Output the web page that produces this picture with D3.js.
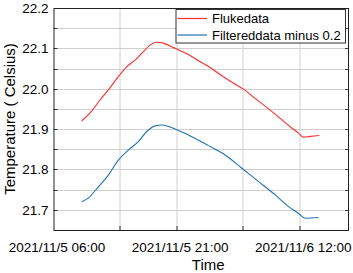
<!DOCTYPE html>
<html>
<head>
<meta charset="utf-8">
<script src="https://cdn.jsdelivr.net/npm/d3@7"></script>
<style>
  body { margin: 0; background: #fff; }
  svg text { font-family: "Liberation Sans", Arial, sans-serif; fill: #000; }
</style>
</head>
<body>
<div id="chart"></div>
<script>
// Flukedata series (time, Celsius)
const flukeTimes = ["2021-11-05 09:26", "2021-11-05 10:40", "2021-11-05 11:40", "2021-11-05 12:41",
  "2021-11-05 13:54", "2021-11-05 14:56", "2021-11-05 15:56", "2021-11-05 16:57", "2021-11-05 17:46",
  "2021-11-05 18:35", "2021-11-05 19:23", "2021-11-05 20:49", "2021-11-05 22:26", "2021-11-05 23:52",
  "2021-11-06 00:53", "2021-11-06 02:31", "2021-11-06 04:08", "2021-11-06 05:09", "2021-11-06 06:34",
  "2021-11-06 08:12", "2021-11-06 09:50", "2021-11-06 11:03", "2021-11-06 11:51", "2021-11-06 12:28",
  "2021-11-06 13:17", "2021-11-06 14:23"]
const flukeValues = [21.920, 21.945, 21.972, 21.997, 22.030, 22.055, 22.071, 22.092, 22.108,
  22.115, 22.113, 22.100, 22.085, 22.067, 22.055, 22.032, 22.011, 21.999, 21.976,
  21.950, 21.923, 21.902, 21.890, 21.880, 21.882, 21.884]

// Filtereddata minus 0.2
const filteredTimes = ["2021-11-05 09:26", "2021-11-05 10:14", "2021-11-05 11:28", "2021-11-05 12:41",
  "2021-11-05 13:54", "2021-11-05 15:07", "2021-11-05 16:20", "2021-11-05 17:22", "2021-11-05 18:23",
  "2021-11-05 19:12", "2021-11-05 20:49", "2021-11-05 22:51", "2021-11-06 00:53", "2021-11-06 02:55",
  "2021-11-06 04:57", "2021-11-06 06:59", "2021-11-06 09:01", "2021-11-06 10:38", "2021-11-06 11:51",
  "2021-11-06 12:40", "2021-11-06 14:17"]
const filteredValues = [21.720, 21.729, 21.757, 21.786, 21.823, 21.848, 21.869, 21.894, 21.908,
  21.910, 21.900, 21.881, 21.859, 21.836, 21.803, 21.770, 21.737, 21.708, 21.691,
  21.679, 21.681]

const seriesNames = ["Flukedata", "Filtereddata minus 0.2"]
const seriesColors = ["#ff2b2b", "#2271b3"]

const xTickTimes = ["2021-11-05 06:00", "2021-11-05 21:00", "2021-11-06 12:00"]
const xGridTimes = ["2021-11-05 14:00", "2021-11-05 21:00", "2021-11-06 05:00", "2021-11-06 12:00"]
const yTicks = [21.7, 21.8, 21.9, 22.0, 22.1, 22.2]
const yGrid = [21.7, 21.75, 21.8, 21.85, 21.9, 21.95, 22.0, 22.05, 22.1, 22.15]

const parse = d3.timeParse("%Y-%m-%d %H:%M")
const fmt = d3.timeFormat("%Y/%-m/%-d %H:%M")

const W = 353, H = 273
const margin = {top: 8, right: 4, bottom: 43, left: 53.5}
const width = W - margin.left - margin.right,
      height = H - margin.top - margin.bottom

const svg = d3.select("#chart").append("svg")
  .attr("width", W).attr("height", H)

const g = svg.append("g")
  .attr("transform", "translate(" + margin.left + "," + margin.top + ")")

const x = d3.scaleTime()
  .domain([parse("2021-11-05 06:00"), parse("2021-11-06 18:00")])
  .range([0, width])

const y = d3.scaleLinear()
  .domain([21.65, 22.2])
  .range([height, 0])

// grid
g.append("g").selectAll("line")
  .data(yGrid)
  .join("line")
  .attr("x1", 0).attr("x2", width)
  .attr("y1", d => Math.round(y(d)) + 0.5).attr("y2", d => Math.round(y(d)) + 0.5)
  .attr("stroke", "#d0d0d0").attr("stroke-width", 1)

g.append("g").selectAll("line")
  .data(xGridTimes.map(parse))
  .join("line")
  .attr("x1", d => Math.round(x(d)) + 0.5).attr("x2", d => Math.round(x(d)) + 0.5)
  .attr("y1", 0).attr("y2", height)
  .attr("stroke", "#d0d0d0").attr("stroke-width", 1)

// axes
const xAxis = g.append("g")
  .attr("transform", "translate(0," + height + ")")
  .call(d3.axisBottom(x).tickValues(xTickTimes.map(parse)).tickFormat(fmt).tickSize(0).tickPadding(12))
xAxis.select(".domain").remove()
xAxis.selectAll("text").attr("font-size", "13.5px").attr("dx", "3")

const yAxis = g.append("g")
  .call(d3.axisLeft(y).tickValues(yTicks).tickFormat(d3.format(".1f")).tickSize(0).tickPadding(5))
yAxis.select(".domain").remove()
yAxis.selectAll("text").attr("font-size", "13.5px")

// inward tick marks on left/right/bottom
const tickLen = 4
g.append("g").selectAll("line")
  .data(yGrid)
  .join("line")
  .attr("x1", 0).attr("x2", tickLen)
  .attr("y1", d => Math.round(y(d)) + 0.5).attr("y2", d => Math.round(y(d)) + 0.5)
  .attr("stroke", "#333")
g.append("g").selectAll("line")
  .data(yGrid)
  .join("line")
  .attr("x1", width - tickLen).attr("x2", width)
  .attr("y1", d => Math.round(y(d)) + 0.5).attr("y2", d => Math.round(y(d)) + 0.5)
  .attr("stroke", "#333")
g.append("g").selectAll("line")
  .data(xGridTimes.map(parse))
  .join("line")
  .attr("x1", d => Math.round(x(d)) + 0.5).attr("x2", d => Math.round(x(d)) + 0.5)
  .attr("y1", height - tickLen).attr("y2", height)
  .attr("stroke", "#333")

// lines
const line = d3.line().curve(d3.curveMonotoneX).x(d => x(d.t)).y(d => y(d.v))
const series = [
  flukeTimes.map((t, i) => ({t: parse(t), v: flukeValues[i]})),
  filteredTimes.map((t, i) => ({t: parse(t), v: filteredValues[i]}))
]
g.append("g").selectAll("path")
  .data(series)
  .join("path")
  .attr("d", line)
  .attr("fill", "none")
  .attr("stroke", (d, i) => seriesColors[i])
  .attr("stroke-width", 1.1)

// frame
g.append("rect")
  .attr("x", 0.5).attr("y", 0.5)
  .attr("width", width - 1).attr("height", height)
  .attr("fill", "none").attr("stroke", "#222").attr("stroke-width", 1)

// legend
const lg = svg.append("g").attr("transform", "translate(176,9.5)")
lg.append("rect")
  .attr("x", 0).attr("y", 0).attr("width", 169.5).attr("height", 33.5)
  .attr("fill", "#fff").attr("stroke", "#333").attr("stroke-width", 1)
seriesNames.forEach((name, i) => {
  const yy = 9 + i * 16.5
  lg.append("line")
    .attr("x1", 1.5).attr("x2", 31).attr("y1", yy).attr("y2", yy)
    .attr("stroke", seriesColors[i]).attr("stroke-width", 1.2)
  lg.append("text")
    .attr("x", 36).attr("y", yy + 4.6)
    .attr("font-size", "13px")
    .text(name)
})

// axis titles
svg.append("text")
  .attr("x", margin.left + width / 2 + 7).attr("y", 270)
  .attr("text-anchor", "middle").attr("font-size", "15px")
  .text("Time")

svg.append("text")
  .attr("transform", "translate(15," + (margin.top + height / 2) + ") rotate(-90)")
  .attr("text-anchor", "middle").attr("font-size", "15px")
  .text("Temperature ( Celsius)")
</script>
</body>
</html>
